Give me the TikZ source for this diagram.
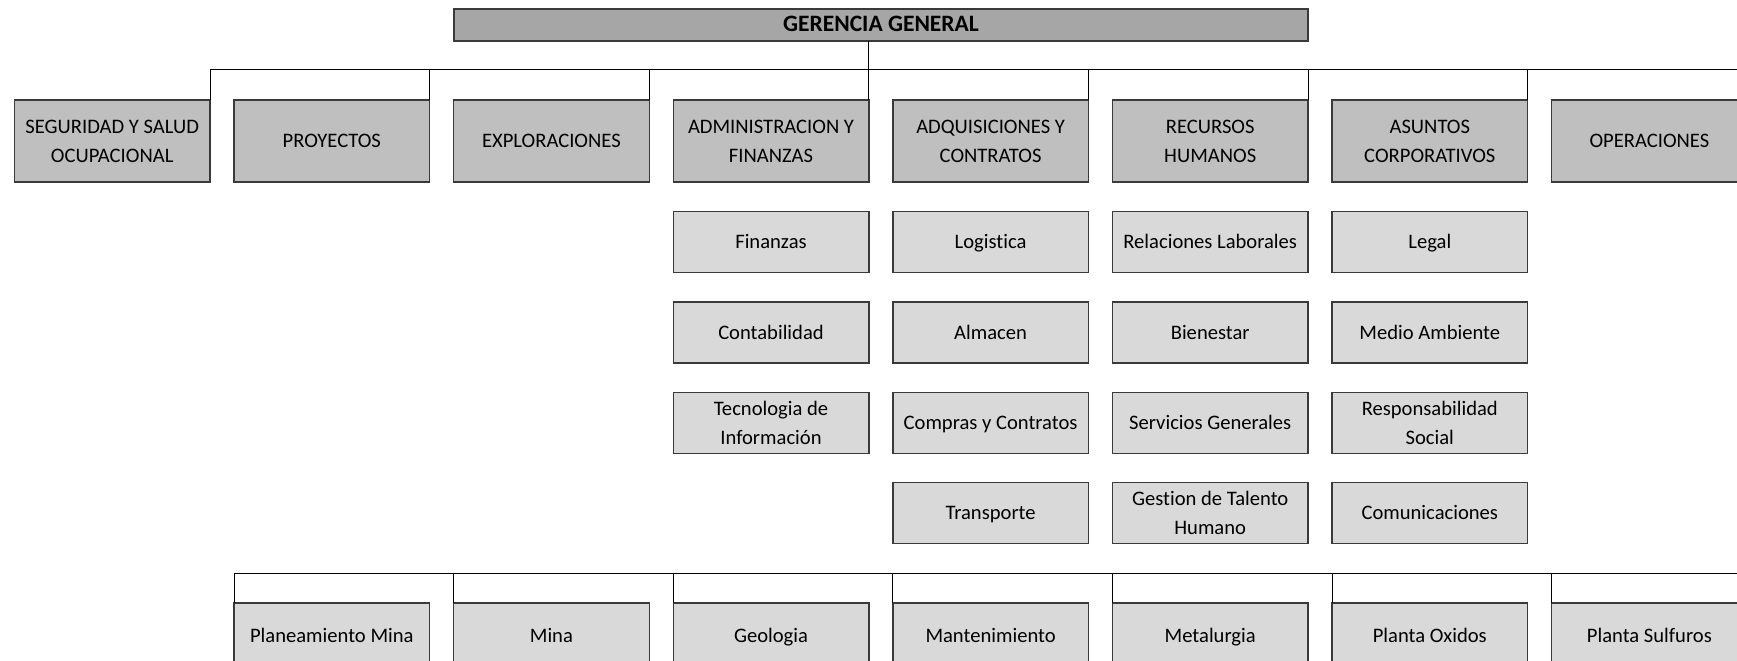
\documentclass[tikz,border=0pt]{standalone}
\usepackage{fontspec}
\setmainfont{Carlito}[Ligatures=NoCommon]
\definecolor{topfill}{HTML}{A6A6A6}
\definecolor{areafill}{HTML}{BFBFBF}
\definecolor{subfill}{HTML}{D9D9D9}
\definecolor{edge}{HTML}{3A3A3A}
\begin{document}
\begin{tikzpicture}[x=1pt,y=-1pt,
  box/.style={draw=edge, line width=1.4pt, rectangle, outer sep=0pt, inner sep=0pt,
    minimum width=195.6pt, align=center, text=black,
    font=\fontsize{20.6}{28.8}\selectfont},
  one/.style={text height=18pt, text depth=4.7pt},
  topbox/.style={box, one, fill=topfill, minimum width=854pt, minimum height=32pt, font=\bfseries\fontsize{23.5}{28.8}\selectfont},
  areabox/.style={box, fill=areafill, minimum height=82pt},
  subbox/.style={box, fill=subfill, minimum height=61pt},
  opbox/.style={box, one, fill=subfill, minimum height=66pt},
  conn/.style={draw=black, line width=1pt}
]
\clip (0,0) rectangle (1737,661);
\fill[white] (0,0) rectangle (1737,661);

% top
\node[topbox] (ger) at (881,25) {GERENCIA GENERAL};

% row 1
\node[areabox] (seg) at (112.2,141) {SEGURIDAD Y SALUD\\OCUPACIONAL};
\node[areabox, one] (pro) at (331.8,141) {PROYECTOS};
\node[areabox, one] (exp) at (551.4,141) {EXPLORACIONES};
\node[areabox] (adm) at (771.0,141) {ADMINISTRACION Y\\FINANZAS};
\node[areabox] (adq) at (990.6,141) {ADQUISICIONES Y\\CONTRATOS};
\node[areabox] (rrh) at (1210.2,141) {RECURSOS\\HUMANOS};
\node[areabox] (asu) at (1429.8,141) {ASUNTOS\\CORPORATIVOS};
\node[areabox, one] (ope) at (1649.4,141) {OPERACIONES};

% sub boxes
\node[subbox, one] (fin) at (771.0,242.2) {Finanzas};
\node[subbox, one] (con) at (771.0,332.5) {Contabilidad};
\node[subbox] (tec) at (771.0,422.8) {Tecnologia de\\Información};

\node[subbox, one] (log) at (990.6,242.2) {Logistica};
\node[subbox, one] (alm) at (990.6,332.5) {Almacen};
\node[subbox, one] (com) at (990.6,422.8) {Compras y Contratos};
\node[subbox, one] (tra) at (990.6,513.1) {Transporte};

\node[subbox, one] (rel) at (1210.2,242.2) {Relaciones Laborales};
\node[subbox, one] (bie) at (1210.2,332.5) {Bienestar};
\node[subbox, one] (ser) at (1210.2,422.8) {Servicios Generales};
\node[subbox] (ges) at (1210.2,513.1) {Gestion de Talento\\Humano};

\node[subbox, one] (leg) at (1429.8,242.2) {Legal};
\node[subbox, one] (med) at (1429.8,332.5) {Medio Ambiente};
\node[subbox] (res) at (1429.8,422.8) {Responsabilidad\\Social};
\node[subbox, one] (cmc) at (1429.8,513.1) {Comunicaciones};

% bottom boxes
\node[opbox] (pla) at (331.8,636) {Planeamiento Mina};
\node[opbox] (min) at (551.4,636) {Mina};
\node[opbox] (geo) at (771.0,636) {Geologia};
\node[opbox] (man) at (990.6,636) {Mantenimiento};
\node[opbox] (met) at (1210.2,636) {Metalurgia};
\node[opbox] (pox) at (1429.8,636) {Planta Oxidos};
\node[opbox] (psu) at (1649.4,636) {Planta Sulfuros};

% top bus
\coordinate (busR) at (1737,70);
\coordinate (bus2R) at (1737,573);
\draw[conn] (adm.north east |- ger.south) -- (adm.north east |- busR);
\draw[conn] (seg.north east |- busR) -- (busR);
\foreach \n in {seg,pro,exp,adm,adq,rrh,asu}{
  \draw[conn] (\n.north east) -- (\n.north east |- busR);
}
% bottom bus
\draw[conn] (pla.north west |- bus2R) -- (bus2R);
\foreach \n in {pla,min,geo,man,met,pox,psu}{
  \draw[conn] (\n.north west) -- (\n.north west |- bus2R);
}
\end{tikzpicture}
\end{document}
